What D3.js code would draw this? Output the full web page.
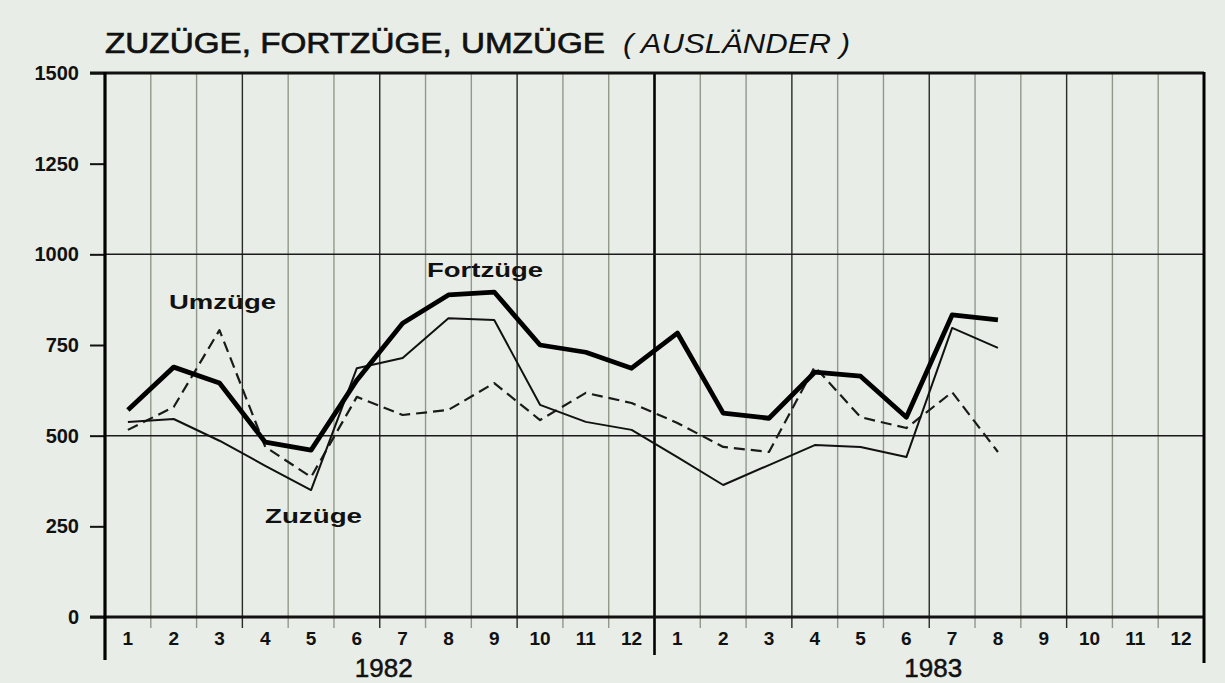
<!DOCTYPE html>
<html>
<head>
<meta charset="utf-8">
<script src="https://cdn.jsdelivr.net/npm/d3@7"></script>
<style>
  html, body { margin: 0; padding: 0; background: #e8ede7; }
  svg { display: block; }
  text { font-family: "Liberation Sans", Arial, Helvetica, sans-serif; fill: #111; }
</style>
</head>
<body>
<svg id="chart" width="1225" height="683"></svg>
<script>
// ---- data ----
const years = ["1982", "1983"];
const months = ["1","2","3","4","5","6","7","8","9","10","11","12"];
const yTicks = [0, 250, 500, 750, 1000, 1250, 1500];
const fortzuege = [571, 689, 645, 482, 460, 653, 810, 888, 896, 750, 730, 686, 783, 562, 548, 675, 664, 551, 833, 819];
const zuzuege   = [538, 546, 486, 417, 350, 686, 714, 824, 819, 585, 538, 516, 441, 364, 419, 474, 469, 441, 797, 742];
const umzuege   = [516, 579, 791, 469, 386, 607, 557, 571, 645, 543, 618, 590, 535, 469, 455, 690, 551, 521, 620, 455];
const titleMain = "ZUZÜGE, FORTZÜGE, UMZÜGE";
const titleSub = "( AUSLÄNDER )";
const seriesLabels = ["Fortzüge", "Umzüge", "Zuzüge"];

// ---- layout ----
const svg = d3.select("#chart");
const pLeft = 105, pRight = 1204, pTop = 73, pBottom = 617;
const nMonths = years.length * months.length;
const x = d3.scaleLinear().domain([0, nMonths]).range([pLeft, pRight]);
const y = d3.scaleLinear().domain([0, 1500]).range([pBottom, pTop]);
const keys = years.flatMap(yr => months.map(m => yr + "-" + m));
const xb = d3.scaleBand().domain(keys).range([pLeft, pRight]);

// background
svg.append("rect").attr("width", 1225).attr("height", 683).attr("fill", "#e8ede7");

// vertical month gridlines
const g = svg.append("g");
d3.range(1, nMonths).forEach(i => {
  const isYear = i % 12 === 0;
  const isQuarter = i % 3 === 0;
  g.append("line")
    .attr("x1", x(i)).attr("x2", x(i))
    .attr("y1", pTop).attr("y2", isYear ? 655 : 628)
    .attr("stroke", isYear ? "#000" : (isQuarter ? "#2a2a2a" : "#8f9a8a"))
    .attr("stroke-width", isYear ? 2.6 : 1.4);
});

// horizontal reference lines at 500 and 1000
[500, 1000].forEach(v => {
  g.append("line").attr("x1", pLeft).attr("x2", pRight)
    .attr("y1", y(v)).attr("y2", y(v))
    .attr("stroke", "#1a1a1a").attr("stroke-width", 1.5);
});

// y axis
const yAxis = d3.axisLeft(y).tickValues(yTicks).tickSize(15).tickPadding(11).tickFormat(d3.format("d"));
const ya = svg.append("g").attr("transform", `translate(${pLeft},0)`).call(yAxis);
ya.select(".domain").remove();
ya.selectAll(".tick line").attr("stroke", "#111").attr("stroke-width", 2);
ya.selectAll(".tick text")
  .style("font-family", "'Liberation Sans', Arial, sans-serif")
  .style("font-size", "20px").style("font-weight", "bold").attr("fill", "#1a1a1a");

// frame: top, bottom (zero), left axis, right edge
svg.append("line").attr("x1", 90).attr("x2", pRight).attr("y1", y(1500)).attr("y2", y(1500))
  .attr("stroke", "#111").attr("stroke-width", 3);
svg.append("line").attr("x1", 90).attr("x2", pRight).attr("y1", y(0)).attr("y2", y(0))
  .attr("stroke", "#111").attr("stroke-width", 3.2);
svg.append("line").attr("x1", pLeft).attr("x2", pLeft).attr("y1", pTop - 1).attr("y2", 660)
  .attr("stroke", "#000").attr("stroke-width", 3.2);
svg.append("line").attr("x1", pRight).attr("x2", pRight).attr("y1", pTop - 1).attr("y2", 663)
  .attr("stroke", "#000").attr("stroke-width", 3);

// x axis month labels
const xAxis = d3.axisBottom(xb).tickSize(0).tickPadding(0).tickFormat(k => k.split("-")[1]);
const xa = svg.append("g").attr("transform", `translate(0,${pBottom})`).call(xAxis);
xa.select(".domain").remove();
xa.selectAll(".tick text")
  .attr("y", 28).attr("dy", 0)
  .style("font-family", "'Liberation Sans', Arial, sans-serif")
  .style("font-size", "19px").style("font-weight", "bold").attr("fill", "#1a1a1a");

// year labels
years.forEach((yr, j) => {
  svg.append("text")
    .attr("x", (x(j * 12) + x(j * 12 + 12)) / 2 + 4)
    .attr("y", 677)
    .attr("text-anchor", "middle")
    .style("font-size", "26px")
    .attr("stroke", "#111").attr("stroke-width", 0.5)
    .text(yr);
});

// lines
const line = d3.line().x((d, i) => x(i + 0.5)).y(d => y(d));
svg.append("path").datum(umzuege).attr("d", line)
  .attr("fill", "none").attr("stroke", "#1a1a1a").attr("stroke-width", 2.2)
  .attr("stroke-dasharray", "11,6").attr("stroke-linejoin", "round");
svg.append("path").datum(zuzuege).attr("d", line)
  .attr("fill", "none").attr("stroke", "#111").attr("stroke-width", 2)
  .attr("stroke-linejoin", "round");
svg.append("path").datum(fortzuege).attr("d", line)
  .attr("fill", "none").attr("stroke", "#000").attr("stroke-width", 4.8)
  .attr("stroke-linejoin", "round");

// series labels
const labelPos = [
  { t: seriesLabels[0], x: 427, y: 277, w: 116 },
  { t: seriesLabels[1], x: 169, y: 309, w: 107 },
  { t: seriesLabels[2], x: 265, y: 523, w: 97 }
];
labelPos.forEach(p => {
  svg.append("text").attr("x", p.x).attr("y", p.y)
    .attr("textLength", p.w).attr("lengthAdjust", "spacingAndGlyphs")
    .style("font-size", "20px").style("font-weight", "bold").attr("fill", "#222")
    .text(p.t);
});

// title
svg.append("text").attr("x", 105).attr("y", 53)
  .attr("textLength", 500).attr("lengthAdjust", "spacingAndGlyphs")
  .style("font-size", "30px").attr("stroke", "#111").attr("stroke-width", 0.7)
  .text(titleMain);
svg.append("text").attr("x", 623).attr("y", 53)
  .attr("textLength", 227).attr("lengthAdjust", "spacingAndGlyphs")
  .style("font-size", "28px").style("font-style", "italic").attr("fill", "#222")
  .text(titleSub);
</script>
</body>
</html>
